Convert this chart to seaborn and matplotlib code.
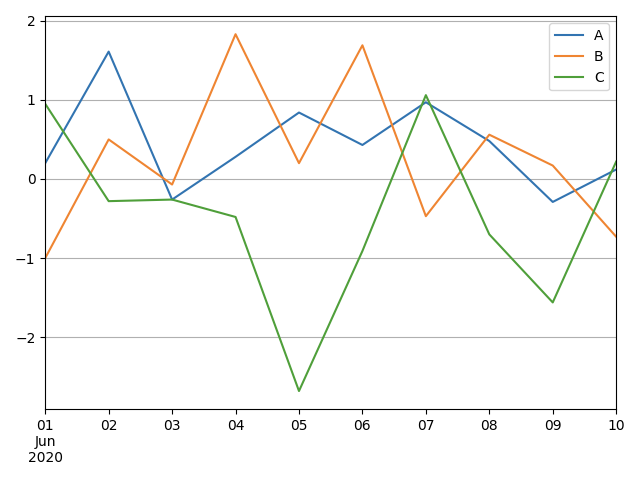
import pandas as pd
import numpy as np
import matplotlib
matplotlib.use('Agg')
import matplotlib.pyplot as plt
import seaborn as sns

dates = pd.date_range('2020-06-01', periods=10, freq='D')
a_vals = [0.20, 1.61, -0.26, 0.28, 0.84, 0.43, 0.97, 0.48, -0.29, 0.12]
b_vals = [-1.00, 0.50, -0.07, 1.83, 0.20, 1.69, -0.47, 0.56, 0.17, -0.73]
c_vals = [0.95, -0.28, -0.26, -0.48, -2.68, -0.91, 1.06, -0.70, -1.56, 0.22]

df = pd.DataFrame({'A': a_vals, 'B': b_vals, 'C': c_vals}, index=dates)
df.index.name = 'date'
long_df = df.reset_index().melt(id_vars='date', var_name='series', value_name='value')

fig, ax = plt.subplots(figsize=(6.4, 4.8), dpi=100)
sns.lineplot(data=long_df, x='date', y='value', hue='series',
             palette=['#3274b1', '#ef8532', '#4f9f3a'], ax=ax, linewidth=1.5)

ax.set_xlim(dates[0], dates[-1])
ax.set_xticks(dates)
labels = [d.strftime('%d') for d in dates]
labels[0] = dates[0].strftime('%d\n%b\n%Y')
ax.set_xticklabels(labels)
ax.set_xlabel('')
ax.set_ylabel('')
ax.grid(axis='y')
ax.legend(title=None, loc='upper right')

plt.tight_layout()
plt.savefig('out.png')
